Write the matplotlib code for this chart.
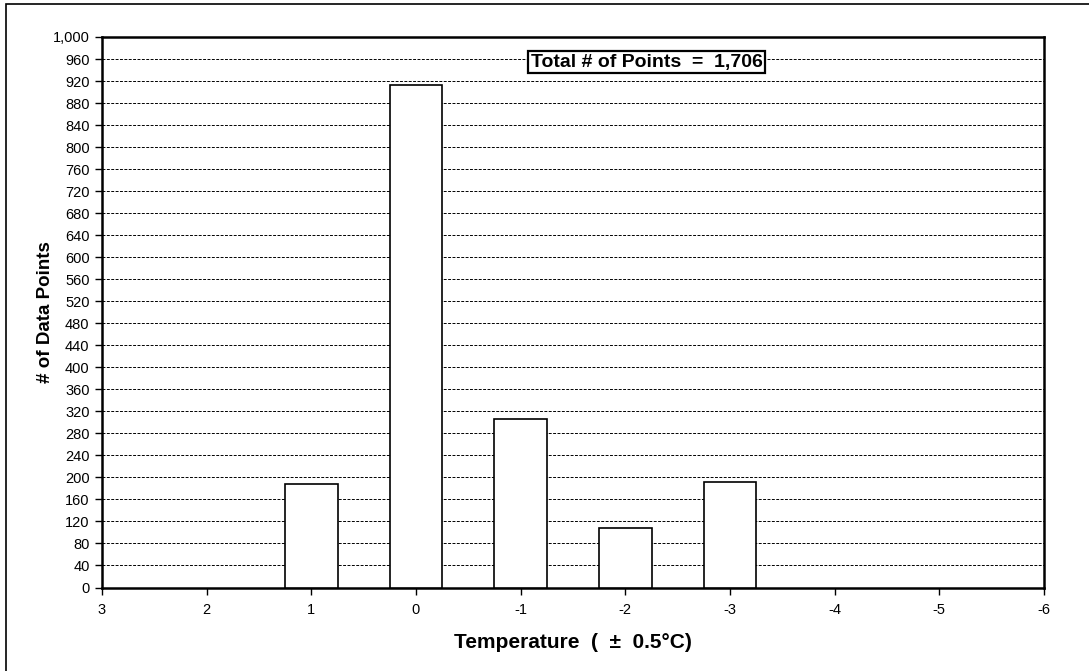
import matplotlib
matplotlib.use("Agg")
import matplotlib.pyplot as plt
from matplotlib.patches import Rectangle
from matplotlib.ticker import FuncFormatter

plt.rcParams['font.family'] = ['Liberation Sans', 'DejaVu Sans']
plt.rcParams['axes.unicode_minus'] = False

# temperature bins and counts
temps = [1, 0, -1, -2, -3]
counts = [188, 912, 306, 108, 192]
total_label = "Total # of Points  =  " + format(sum(counts), ",")

fig = plt.figure(figsize=(10.89, 6.71), dpi=100)
ax = fig.add_axes([102/1089, 1 - 587.5/671, (1044-102)/1089, (587.5-37)/671])

# outer frame around the whole chart
fig.patches.append(Rectangle((6/1089, -0.05), 1.2, 1 - 4/671 + 0.05,
                             transform=fig.transFigure, fill=False,
                             edgecolor='black', linewidth=1.2))

ax.bar(temps, counts, width=0.5, color='white', edgecolor='black',
       linewidth=1.2, zorder=3)

ax.set_xlim(3, -6)
ax.set_ylim(0, 1000)
ax.set_xticks(range(3, -7, -1))
ax.set_yticks(range(0, 1001, 40))
ax.yaxis.set_major_formatter(FuncFormatter(lambda v, p: format(int(v), ",")))
ax.xaxis.set_major_formatter(FuncFormatter(lambda v, p: str(int(v))))

ax.yaxis.grid(True, color='black', linestyle=(0, (3, 1.5)), linewidth=0.7, zorder=1)
ax.set_axisbelow(True)

for s in ax.spines.values():
    s.set_linewidth(1.8)

ax.tick_params(axis='both', direction='out', length=5, width=1, labelsize=10.5)
ax.tick_params(axis='y', pad=4)
ax.tick_params(axis='x', pad=6)

ax.set_xlabel("Temperature  (  \u00b1  0.5\u00b0C)", fontsize=15, fontweight='bold', labelpad=12)
ax.set_ylabel("# of Data Points", fontsize=13.5, fontweight='bold')
ax.yaxis.set_label_coords(-0.051, 0.5)

ax.text(0.578, 0.954, total_label, transform=ax.transAxes, ha='center', va='center',
        fontsize=14, fontweight='bold', zorder=5,
        bbox=dict(boxstyle='square,pad=0.12', facecolor='white', edgecolor='black', linewidth=1.6))

fig.savefig("out.png", dpi=100)
